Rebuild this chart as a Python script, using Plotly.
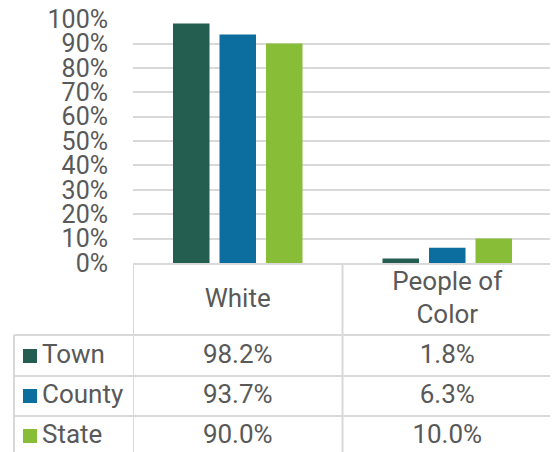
import plotly.graph_objects as go

categories = ["White", "People of Color"]
category_labels = ["White", "People of<br>Color"]
series_names = ["Town", "County", "State"]
town = [0.982, 0.018]
county = [0.937, 0.063]
state = [0.900, 0.100]
tick_vals = [0, 0.1, 0.2, 0.3, 0.4, 0.5, 0.6, 0.7, 0.8, 0.9, 1.0]
tick_text = ["0%", "10%", "20%", "30%", "40%", "50%", "60%", "70%", "80%", "90%", "100%"]

series_values = [town, county, state]
colors = ["#235E51", "#0B6E9F", "#88BD38"]

W, H = 558, 452
OFF = 8  # page body margin offset
FONT = "Roboto"
TXT = "#595959"
GRID = "#d9d9d9"
tfont = dict(family=FONT, size=25, color=TXT)
cfont = dict(family=FONT, size=26, color=TXT)

def dx(p):
    return (p - OFF) / W

def dy(p):
    return 1 - (p - OFF) / H

fig = go.Figure()
for name, vals, col in zip(series_names, series_values, colors):
    fig.add_trace(go.Bar(
        x=categories, y=vals, name=name,
        marker=dict(color=col, line=dict(width=0)),
        showlegend=False, hoverinfo="skip",
    ))

header_y = 300
row_centers = [356, 396, 436]

fig.add_trace(go.Scatter(
    x=categories, y=[header_y] * len(categories), xaxis="x", yaxis="y2",
    mode="text", text=category_labels, textposition="middle center",
    textfont=cfont, showlegend=False, hoverinfo="skip", cliponaxis=False))

for name, vals, col, yc in zip(series_names, series_values, colors, row_centers):
    fig.add_trace(go.Scatter(
        x=[30], y=[yc], xaxis="x2", yaxis="y2", mode="markers",
        marker=dict(symbol="square", size=14, color=col, line=dict(width=0)),
        showlegend=False, hoverinfo="skip", cliponaxis=False))
    fig.add_trace(go.Scatter(
        x=[42], y=[yc], xaxis="x2", yaxis="y2", mode="text",
        text=[name], textposition="middle right", textfont=cfont,
        showlegend=False, hoverinfo="skip", cliponaxis=False))
    fig.add_trace(go.Scatter(
        x=categories, y=[yc] * len(categories), xaxis="x", yaxis="y2",
        mode="text", text=[f"{v*100:.1f}%" for v in vals],
        textposition="middle center", textfont=cfont,
        showlegend=False, hoverinfo="skip", cliponaxis=False))

fig.update_layout(
    width=W, height=H,
    margin=dict(l=0, r=0, t=0, b=0, pad=0),
    paper_bgcolor="white", plot_bgcolor="rgba(0,0,0,0)",
    barmode="group", bargap=0.334, bargroupgap=0.215,
    font=tfont,
    xaxis=dict(domain=[dx(133), dx(552)], showticklabels=False,
               showgrid=False, zeroline=False, showline=False,
               range=[-0.5, 1.5], automargin=False, fixedrange=True),
    yaxis=dict(domain=[dy(263), dy(19)], range=[0, 1.0005],
               tickvals=tick_vals, ticktext=tick_text,
               showgrid=True, gridcolor=GRID, gridwidth=1.5,
               zeroline=False, showline=False, automargin=False,
               ticklabeloverflow="allow",
               ticklabelstandoff=24, tickfont=tfont, fixedrange=True),
    xaxis2=dict(domain=[0, 1], range=[OFF, W + OFF], visible=False, anchor="y2",
                automargin=False, fixedrange=True),
    yaxis2=dict(domain=[0, 1], range=[H + OFF, OFF], visible=False, anchor="x2",
                automargin=False, fixedrange=True),
)

shapes = []
line = dict(color=GRID, width=2)
shapes.append(dict(type="line", xref="x2", yref="y2",
                   x0=133, x1=552, y0=264, y1=264, line=line))
for yy in [335, 376, 416]:
    shapes.append(dict(type="line", xref="x2", yref="y2",
                       x0=14, x1=552, y0=yy, y1=yy, line=line))
for xb in [-0.5, 0.5, 1.5]:
    shapes.append(dict(type="line", xref="x", yref="y2",
                       x0=xb, x1=xb, y0=264, y1=470, line=line))
shapes.append(dict(type="line", xref="x2", yref="y2",
                   x0=14, x1=14, y0=335, y1=470, line=line))
fig.update_layout(shapes=shapes)

fig.write_html("out.html")
